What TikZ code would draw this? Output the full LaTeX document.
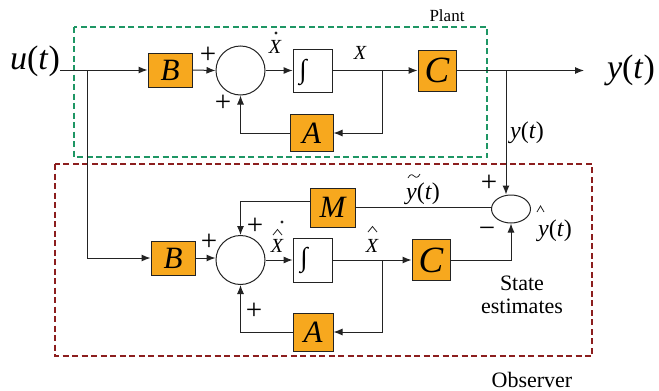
\documentclass[tikz,border=0pt]{standalone}
\usepackage{fontspec}
\setmainfont{Liberation Serif}
\usetikzlibrary{arrows.meta,shapes.geometric}
\definecolor{boxor}{RGB}{247,168,30}
\definecolor{grn}{RGB}{30,150,100}
\definecolor{dred}{RGB}{140,30,30}
\definecolor{ln}{RGB}{35,35,35}
\begin{document}
\begin{tikzpicture}[x=1pt,y=-1pt,
  blk/.style={draw=ln, line width=1pt, fill=boxor, inner sep=0pt, font=\fontsize{31}{31}\selectfont\itshape},
  sumc/.style={draw=ln, line width=1pt, circle, minimum size=49pt, inner sep=0pt},
  sume/.style={draw=ln, line width=1pt, ellipse, minimum width=39pt, minimum height=28pt, inner sep=0pt},
  intb/.style={draw=ln, line width=0.8pt, fill=white, minimum width=39pt, minimum height=43pt, inner sep=0pt},
  wire/.style={draw=ln, line width=1pt},
  arr/.style={wire, -{Latex[length=9pt,width=7pt]}},
  biglbl/.style={inner sep=0pt, font=\fontsize{34}{34}\selectfont},
  lbl/.style={inner sep=0pt, font=\fontsize{24}{24}\selectfont},
  xlbl/.style={inner sep=0pt, font=\fontsize{20}{20}\selectfont\itshape},
  sgn/.style={inner sep=0pt, font=\fontsize{29}{29}\selectfont},
  txt/.style={inner sep=0pt, anchor=base, font=\fontsize{22}{22}\selectfont},
  intg/.style={inner sep=0pt, font=\fontsize{27}{27}\selectfont},
  deco/.style={draw=ln, line width=0.8pt}]
\useasboundingbox (0,0) rectangle (659,391);
% dashed frames
\draw[grn, line width=2.4pt, dash pattern=on 6pt off 3.5pt] (74,27) rectangle (487,157);
\draw[dred, line width=2.4pt, dash pattern=on 6pt off 3.5pt] (55,164) rectangle (592,356);
\node[inner sep=0pt, anchor=base, font=\fontsize{17}{17}\selectfont] (plant) at (447,21) {Plant};
\node[txt, font=\fontsize{22}{22}\selectfont] (obs) at (532,387) {Observer};
\node[txt] (st1) at (522,290) {State};
\node[txt] (st2) at (522,313) {estimates};
% plant
\node[biglbl] (u) at (35,61) {\textit{u}(\textit{t})};
\node[biglbl] (y) at (631,70) {\textit{y}(\textit{t})};
\node[blk, minimum width=44pt, minimum height=34pt] (B1) at (170,70) {B};
\node[sumc] (S1) at (240.5,70.5) {};
\node[intb] (I1) at (312.5,70.5) {};
\node[intg] (int1) at (303,72) {∫};
\node[blk, minimum width=38pt, minimum height=41pt, font=\fontsize{37}{37}\selectfont\itshape] (C1) at (437,70.5) {C};
\node[blk, minimum width=43pt, minimum height=37pt] (A1) at (311.5,133) {A};
\coordinate (j1) at (87,70);
\coordinate (j2) at (382,70.5);
\coordinate (j3) at (506,70.5);
\coordinate (yend) at (584,70.5);
\draw[arr] (u.east |- 0,70) -- (B1.west);
\draw[arr] (B1.east) -- (S1.west);
\draw[arr] (S1.east) -- (I1.west);
\draw[arr] (I1.east) -- (C1.west);
\draw[arr] (C1.east) -- (yend);
\draw[arr] (j2) |- (A1.east);
\draw[arr] (A1.west) -| (S1.south);
% observer
\node[blk, minimum width=44pt, minimum height=34pt] (B2) at (173,258) {B};
\node[sumc] (S2) at (240.5,260) {};
\node[intb, minimum height=44pt] (I2) at (312.5,260) {};
\node[intg] (int2) at (304,260) {∫};
\node[blk, minimum width=38pt, minimum height=41pt, font=\fontsize{37}{37}\selectfont\itshape] (C2) at (431,260) {C};
\node[blk, minimum width=40pt, minimum height=38pt] (A2) at (313,332) {A};
\node[blk, minimum width=45pt, minimum height=39pt] (M) at (332.5,207.5) {M};
\node[sume] (S3) at (511,209) {};
\coordinate (j4) at (382,260);
\draw[arr] (j1) |- (B2.west);
\draw[arr] (B2.east) -- (B2.east -| S2.west);
\draw[arr] (S2.east) -- (I2.west);
\draw[arr] (I2.east) -- (C2.west);
\draw[arr] (j4) |- (A2.east);
\draw[arr] (A2.west) -| (S2.south);
\draw[arr] ([yshift=6.5pt]M.west) -| (S2.north);
\draw[wire] (M.east) -- (M.east -| S3.west);
\draw[arr] (C2.east) -| (S3.south);
\draw[arr] (j3) -- (j3 |- S3.north);
% signal labels
\node[xlbl, anchor=base] (xd) at (275,53) {X};
\fill[ln] (276,33) circle (1.7pt);
\node[xlbl, anchor=base] (x1) at (360,59) {X};
\node[lbl] (ymid) at (527,133) {\textit{y}(\textit{t})};
\node[xlbl, anchor=base] (xhd) at (277,252) {X};
\draw[deco] (273,235) -- (277.5,229.5) -- (282,235);
\fill[ln] (282,222) circle (1.7pt);
\node[xlbl, anchor=base] (xh) at (372,252) {X};
\draw[deco] (368,232) -- (372.5,226.5) -- (377,232);
\node[lbl] (yt) at (423,194) {\textit{y}(\textit{t})};
\draw[deco] (408,178) .. controls (410,174) and (412,174) .. (414,176) .. controls (416,178) and (418,178) .. (420,174);
\node[lbl] (yh) at (555,231) {\textit{y}(\textit{t})};
\draw[deco] (537,212) -- (540.5,206) -- (544,212);
% signs
\node[sgn] (p1) at (208,55) {+};
\node[sgn] (p2) at (223,103) {+};
\node[sgn] (p3) at (209,242) {+};
\node[sgn] (p4) at (255,226) {+};
\node[sgn] (p5) at (254,311) {+};
\node[sgn] (p6) at (489,183) {+};
\node[sgn] (m1) at (487,232) {−};
\end{tikzpicture}
\end{document}
